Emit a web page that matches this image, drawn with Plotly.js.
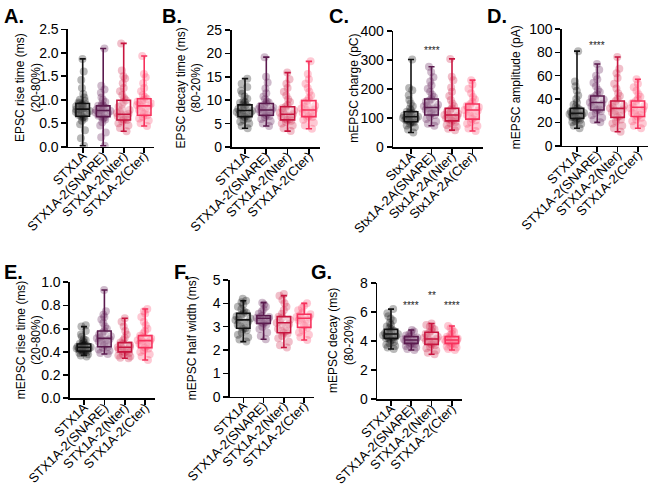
<!DOCTYPE html>
<html>
<head>
<meta charset="utf-8">
<script src="https://cdn.plot.ly/plotly-3.0.1.min.js"></script>
<style>
  html, body { margin: 0; padding: 0; background: #fff; }
  #fig { width: 653px; height: 487px; }
</style>
</head>
<body>
<div id="fig"></div>
<script>
const groups = ['STX1A', 'STX1A-2(SNARE)', 'STX1A-2(Nter)', 'STX1A-2(Cter)'];
const groupsC = ['Stx1A', 'Stx1A-2A(SNARE)', 'Stx1A-2A(Nter)', 'Stx1A-2A(Cter)'];

// box stats per group: [min, q1, median, q3, max]
const boxA = [[0.02, 0.65, 0.80, 0.92, 1.87], [0.02, 0.64, 0.77, 0.87, 2.09], [0.33, 0.57, 0.69, 0.99, 2.20], [0.44, 0.67, 0.87, 1.02, 1.93]];
const boxB = [[4.0, 6.5, 7.8, 9.0, 14.6], [4.5, 6.8, 7.9, 9.3, 19.2], [3.4, 5.8, 7.0, 8.6, 15.9], [3.9, 6.5, 7.9, 9.9, 18.3]];
const boxC = [[50, 87, 104, 121, 301], [73, 110, 136, 165, 276], [58, 90, 110, 133, 303], [55, 96, 127, 148, 230]];
const boxD = [[14.9, 23.4, 27.7, 32, 81], [20, 30.6, 37, 42.6, 70], [12, 24.3, 32, 38.3, 76], [15, 25, 33, 38.3, 57]];
const boxE = [[0.37, 0.408, 0.44, 0.468, 0.618], [0.382, 0.445, 0.517, 0.58, 0.934], [0.345, 0.40, 0.44, 0.48, 0.69], [0.33, 0.437, 0.497, 0.54, 0.77]];
const boxF = [[2.36, 2.93, 3.29, 3.57, 4.11], [2.46, 3.14, 3.36, 3.47, 4.03], [2.11, 2.74, 3.17, 3.43, 4.33], [2.43, 2.97, 3.36, 3.53, 4.0]];
const boxG = [[3.45, 4.18, 4.48, 4.8, 6.19], [3.38, 3.84, 4.07, 4.3, 4.75], [3.09, 3.77, 4.14, 4.6, 5.2], [3.38, 3.84, 4.07, 4.3, 5.03]];

// individual cells
const aSTX = [0.02, 0.18, 0.35, 0.48, 0.55, 0.6, 0.63, 0.65, 0.68, 0.7, 0.72, 0.74, 0.76, 0.78, 0.79, 0.8, 0.81, 0.83, 0.85, 0.87, 0.88, 0.9, 0.92, 0.94, 0.98, 1.05, 1.12, 1.25, 1.42, 1.6, 1.87, 0.62, 0.75, 0.82, 0.9, 1.0, 0.7, 0.86];
const aSNARE = [0.02, 0.2, 0.3, 0.45, 0.52, 0.58, 0.62, 0.64, 0.66, 0.68, 0.7, 0.72, 0.74, 0.76, 0.77, 0.78, 0.8, 0.82, 0.84, 0.86, 0.87, 0.9, 0.95, 1.0, 1.05, 1.15, 1.22, 1.3, 2.09, 0.6, 0.73, 0.79, 0.88];
const aNter = [0.33, 0.4, 0.45, 0.5, 0.54, 0.57, 0.6, 0.62, 0.65, 0.67, 0.69, 0.72, 0.75, 0.8, 0.85, 0.9, 0.95, 0.99, 1.03, 1.1, 1.18, 1.25, 1.35, 1.45, 1.5, 1.62, 2.2, 0.58, 0.7, 0.78];
const aCter = [0.44, 0.5, 0.56, 0.6, 0.64, 0.67, 0.7, 0.74, 0.78, 0.82, 0.85, 0.87, 0.89, 0.92, 0.95, 0.98, 1.0, 1.02, 1.06, 1.1, 1.18, 1.25, 1.35, 1.48, 1.55, 1.93, 0.72, 0.9, 0.96];

const bSTX = [4.0, 4.5, 5.0, 5.4, 5.8, 6.1, 6.4, 6.6, 6.9, 7.1, 7.3, 7.5, 7.7, 7.9, 8.1, 8.3, 8.6, 8.9, 9.1, 9.4, 9.8, 10.3, 10.8, 11.4, 12.0, 12.8, 13.5, 14.6, 7.0, 7.6, 8.4, 6.8, 9.6];
const bSNARE = [4.5, 5.0, 5.5, 6.0, 6.4, 6.8, 7.1, 7.4, 7.7, 7.9, 8.1, 8.4, 8.7, 9.0, 9.3, 9.7, 10.2, 10.8, 11.5, 12.5, 13.8, 15.0, 19.2, 7.2, 7.8, 8.6, 6.6, 8.2, 9.5];
const bNter = [3.4, 4.0, 4.6, 5.0, 5.4, 5.8, 6.1, 6.4, 6.7, 7.0, 7.3, 7.6, 8.0, 8.3, 8.6, 9.0, 9.6, 10.2, 11.0, 11.8, 12.6, 13.5, 14.5, 15.9, 6.0, 6.9, 7.8, 5.6];
const bCter = [3.9, 4.6, 5.2, 5.8, 6.2, 6.5, 6.9, 7.3, 7.6, 7.9, 8.2, 8.6, 9.0, 9.5, 9.9, 10.4, 11.0, 11.8, 12.6, 13.5, 14.5, 15.6, 18.3, 7.0, 8.0, 8.8, 6.4];

const cSTX = [50, 60, 68, 74, 80, 84, 87, 90, 93, 96, 99, 102, 104, 106, 109, 112, 115, 118, 121, 126, 132, 140, 150, 162, 178, 195, 203, 301, 95, 100, 108, 85, 116];
const cSNARE = [73, 80, 88, 96, 104, 110, 116, 122, 128, 133, 136, 140, 145, 150, 156, 160, 165, 172, 180, 190, 200, 212, 225, 240, 258, 276, 130, 142, 118];
const cNter = [58, 63, 70, 76, 82, 86, 90, 94, 98, 102, 106, 110, 114, 118, 122, 127, 133, 140, 150, 162, 175, 190, 205, 230, 242, 303, 100, 112, 96];
const cCter = [55, 64, 72, 80, 86, 92, 96, 102, 108, 114, 120, 127, 132, 137, 142, 148, 155, 163, 172, 185, 200, 215, 230, 110, 125, 140];

const dSTX = [14.9, 17, 18.5, 20, 21, 22, 23, 23.4, 24.5, 25.5, 26.5, 27.2, 27.7, 28.3, 29, 30, 31, 32, 33.5, 35, 37, 40, 43, 47, 51, 55, 81, 26, 28, 24, 30];
const dSNARE = [20, 22, 24, 26, 28, 29.5, 30.6, 32, 33.5, 35, 36, 37, 38, 39.5, 41, 42.6, 44, 46, 48, 51, 54, 57, 60, 65, 70, 34, 40, 31];
const dNter = [12, 15, 17, 19, 21, 22.5, 24.3, 25.5, 27, 28.5, 30, 31, 32, 33, 34.5, 36, 38.3, 40, 42.5, 45, 49, 53, 58, 62, 66, 76, 29, 35];
const dCter = [15, 17, 19, 21, 22.5, 24, 25, 26.5, 28, 29.5, 31, 32, 33, 34, 35, 36.5, 38.3, 40, 42, 44, 47, 50, 53, 57, 30, 27];

const eSTX = [0.36, 0.37, 0.38, 0.39, 0.395, 0.4, 0.405, 0.41, 0.415, 0.42, 0.425, 0.43, 0.435, 0.44, 0.445, 0.45, 0.455, 0.46, 0.465, 0.47, 0.48, 0.49, 0.5, 0.51, 0.53, 0.55, 0.58, 0.618, 0.63, 0.42, 0.44, 0.45, 0.43];
const eSNARE = [0.382, 0.39, 0.41, 0.42, 0.435, 0.445, 0.46, 0.475, 0.49, 0.5, 0.51, 0.517, 0.525, 0.535, 0.55, 0.565, 0.58, 0.6, 0.62, 0.65, 0.68, 0.7, 0.72, 0.75, 0.934, 0.5, 0.54, 0.47];
const eNter = [0.345, 0.35, 0.36, 0.37, 0.38, 0.39, 0.4, 0.41, 0.42, 0.43, 0.44, 0.45, 0.46, 0.47, 0.48, 0.5, 0.52, 0.55, 0.58, 0.62, 0.66, 0.69, 0.42, 0.44, 0.41];
const eCter = [0.33, 0.36, 0.38, 0.4, 0.415, 0.43, 0.437, 0.45, 0.465, 0.48, 0.49, 0.497, 0.505, 0.515, 0.525, 0.54, 0.56, 0.58, 0.6, 0.63, 0.66, 0.7, 0.73, 0.75, 0.77, 0.5, 0.47];

const fSTX = [2.36, 2.45, 2.55, 2.65, 2.75, 2.85, 2.93, 3.0, 3.08, 3.15, 3.22, 3.29, 3.35, 3.42, 3.5, 3.57, 3.65, 3.75, 3.85, 3.95, 4.05, 4.11, 4.2, 3.1, 3.3, 3.45, 2.9, 3.6];
const fSNARE = [2.46, 2.6, 2.75, 2.9, 3.0, 3.08, 3.14, 3.2, 3.25, 3.3, 3.35, 3.38, 3.42, 3.47, 3.55, 3.65, 3.75, 3.85, 3.95, 4.03, 3.3, 3.4, 3.2];
const fNter = [2.11, 2.2, 2.35, 2.5, 2.6, 2.7, 2.74, 2.82, 2.9, 3.0, 3.08, 3.17, 3.22, 3.3, 3.38, 3.43, 3.55, 3.7, 3.85, 4.0, 4.15, 4.33, 4.4, 3.1, 2.8];
const fCter = [2.43, 2.55, 2.65, 2.75, 2.85, 2.97, 3.05, 3.12, 3.2, 3.28, 3.36, 3.42, 3.48, 3.53, 3.6, 3.7, 3.8, 3.9, 4.0, 3.3, 3.4];

const gSTX = [3.45, 3.55, 3.65, 3.75, 3.85, 3.95, 4.05, 4.12, 4.18, 4.25, 4.32, 4.4, 4.48, 4.55, 4.62, 4.7, 4.8, 4.9, 5.0, 5.1, 5.25, 5.4, 5.55, 5.7, 5.9, 6.19, 4.3, 4.5, 4.6, 4.2, 4.4];
const gSNARE = [3.38, 3.45, 3.55, 3.65, 3.72, 3.8, 3.84, 3.9, 3.95, 4.0, 4.07, 4.12, 4.18, 4.24, 4.3, 4.38, 4.46, 4.55, 4.65, 4.75, 4.0, 4.1];
const gNter = [3.09, 3.2, 3.35, 3.5, 3.6, 3.7, 3.77, 3.85, 3.93, 4.0, 4.07, 4.14, 4.22, 4.3, 4.4, 4.5, 4.6, 4.7, 4.8, 4.9, 5.0, 5.1, 5.2, 4.0, 4.3];
const gCter = [3.38, 3.45, 3.55, 3.62, 3.7, 3.78, 3.84, 3.9, 3.96, 4.02, 4.07, 4.12, 4.18, 4.24, 4.3, 4.4, 4.5, 4.62, 4.75, 4.88, 5.03, 4.0, 4.1, 3.95];

// significance marks: [group index, y, text]
const starsC = [[1, 333, '****']];
const starsD = [[1, 86, '****']];
const starsE = [[1, 1.01, '****'], [3, 1.01, '***']];
const starsG = [[1, 6.45, '****'], [2, 7.1, '**'], [3, 6.45, '****']];

const lineColors = ['#111111', '#5b1a4e', '#c8153f', '#f7315c'];
const dotColors = ['rgba(0,0,0,0.28)', 'rgba(95,30,85,0.3)', 'rgba(205,25,65,0.28)', 'rgba(250,60,100,0.28)'];

const W = 653, H = 487;
const FONT = 'Liberation Sans, Arial, Helvetica, sans-serif';

// layout in page pixels
const panels = [
  { letter: 'A.', lx: 2, ly: 3, cats: groups, pts: [aSTX, aSNARE, aNter, aCter], box: boxA, stars: [],
    left: 68, first: 82.7, sp: 20.5, top: 29.3, bottom: 146.7, yr: [0, 2.5], dtick: 0.5, fmt: '.1f',
    title: 'EPSC rise time (ms)<br>(20-80%)', tx: 28 },
  { letter: 'B.', lx: 160, ly: 3, cats: groups, pts: [bSTX, bSNARE, bNter, bCter], box: boxB, stars: [],
    left: 231.5, first: 245, sp: 21.3, top: 30, bottom: 147, yr: [0, 25], dtick: 5, fmt: '',
    title: 'EPSC decay time (ms)<br>(80-20%)', tx: 188 },
  { letter: 'C.', lx: 327, ly: 3, cats: groupsC, pts: [cSTX, cSNARE, cNter, cCter], box: boxC, stars: starsC,
    left: 393.3, first: 411, sp: 20.5, top: 30.7, bottom: 147, yr: [0, 400], dtick: 100, fmt: '',
    title: 'mEPSC charge (pC)', tx: 354 },
  { letter: 'D.', lx: 485, ly: 3, cats: groups, pts: [dSTX, dSNARE, dNter, dCter], box: boxD, stars: starsD,
    left: 562, first: 577, sp: 20.3, top: 29, bottom: 145.7, yr: [0, 100], dtick: 20, fmt: '',
    title: 'mEPSC amplitude (pA)', tx: 516 },
  { letter: 'E.', lx: 2, ly: 259, cats: groups, pts: [eSTX, eSNARE, eNter, eCter], box: boxE, stars: starsE,
    left: 70, first: 84, sp: 20.4, top: 282.3, bottom: 398.3, yr: [0, 1], dtick: 0.2, fmt: '.1f',
    title: 'mEPSC rise time (ms)<br>(20-80%)', tx: 29 },
  { letter: 'F.', lx: 172, ly: 259, cats: groups, pts: [fSTX, fSNARE, fNter, fCter], box: boxF, stars: [],
    left: 230, first: 243.3, sp: 20.3, top: 280, bottom: 396.7, yr: [0, 5], dtick: 1, fmt: '',
    title: 'mEPSC half width (ms)', tx: 192 },
  { letter: 'G.', lx: 309, ly: 259, cats: groups, pts: [gSTX, gSNARE, gNter, gCter], box: boxG, stars: starsG,
    left: 377.3, first: 391, sp: 20.3, top: 282.7, bottom: 399.3, yr: [0, 8], dtick: 2, fmt: '',
    title: 'mEPSC decay (ms)<br>(80-20%)', tx: 341 },
];

const traces = [];
const layout = {
  width: W, height: H,
  margin: { l: 0, r: 0, t: 0, b: 0 },
  paper_bgcolor: '#fff', plot_bgcolor: 'rgba(0,0,0,0)',
  showlegend: false,
  boxmode: 'overlay',
  font: { family: FONT, color: '#000' },
  annotations: [],
};

panels.forEach((p, k) => {
  const n = k === 0 ? '' : String(k + 1);
  const xr = 'x' + n, yr = 'y' + n;

  // sample points, jittered by plotly's box trace
  p.pts.forEach((vals, i) => {
    traces.push({
      type: 'box', xaxis: xr, yaxis: yr,
      x: vals.map(() => p.cats[i]), y: vals,
      boxpoints: 'all', jitter: 1, pointpos: 0, width: 0.8,
      marker: { color: dotColors[i], size: 8, line: { width: 0 } },
      line: { width: 0, color: 'rgba(0,0,0,0)' }, fillcolor: 'rgba(0,0,0,0)',
      hoverinfo: 'skip',
    });
  });

  // min-to-max box & whiskers
  p.box.forEach((s, i) => {
    traces.push({
      type: 'box', xaxis: xr, yaxis: yr,
      x: [p.cats[i]], lowerfence: [s[0]], q1: [s[1]], median: [s[2]], q3: [s[3]], upperfence: [s[4]],
      boxpoints: false, width: 0.66, whiskerwidth: 0.45,
      line: { color: lineColors[i], width: 1.6 },
      fillcolor: 'rgba(255,255,255,0.25)',
    });
  });

  const lo = -(p.first - p.left) / p.sp;
  const right = p.first + 3.5 * p.sp;
  layout['xaxis' + n] = {
    anchor: yr, domain: [p.left / W, right / W],
    type: 'category', categoryarray: p.cats, range: [lo, 3.5],
    showline: true, linecolor: '#000', linewidth: 1.6,
    ticks: 'outside', ticklen: 5, tickwidth: 1.6, tickcolor: '#000',
    tickangle: -45, ticklabelstandoff: -10,
    tickfont: { size: 13, family: FONT, color: '#000' },
    showgrid: false, zeroline: false, fixedrange: true,
  };
  layout['yaxis' + n] = {
    anchor: xr, domain: [1 - p.bottom / H, 1 - p.top / H],
    range: p.yr, dtick: p.dtick, tick0: 0, tickformat: p.fmt,
    showline: true, linecolor: '#000', linewidth: 1.6,
    ticks: 'outside', ticklen: 5, tickwidth: 1.6, tickcolor: '#000',
    tickfont: { size: 14, family: FONT, color: '#000' },
    showgrid: false, zeroline: false, fixedrange: true,
  };

  layout.annotations.push({
    xref: 'paper', yref: 'paper', x: p.tx / W, y: 1 - (p.top + p.bottom) / 2 / H,
    xanchor: 'center', yanchor: 'middle', textangle: -90, showarrow: false,
    text: p.title, font: { size: 12, family: FONT, color: '#000' },
  });
  layout.annotations.push({
    xref: 'paper', yref: 'paper', x: p.lx / W, y: 1 - p.ly / H,
    xanchor: 'left', yanchor: 'top', showarrow: false,
    text: '<b>' + p.letter + '</b>', font: { size: 20, family: FONT, color: '#000' },
  });
  p.stars.forEach(([i, y, t]) => {
    layout.annotations.push({
      xref: xr, yref: yr, x: p.cats[i], y: y, showarrow: false,
      text: t, font: { size: 10, family: FONT, color: '#222' },
    });
  });
});

Plotly.newPlot('fig', traces, layout, { displayModeBar: false, staticPlot: true });
</script>
</body>
</html>
